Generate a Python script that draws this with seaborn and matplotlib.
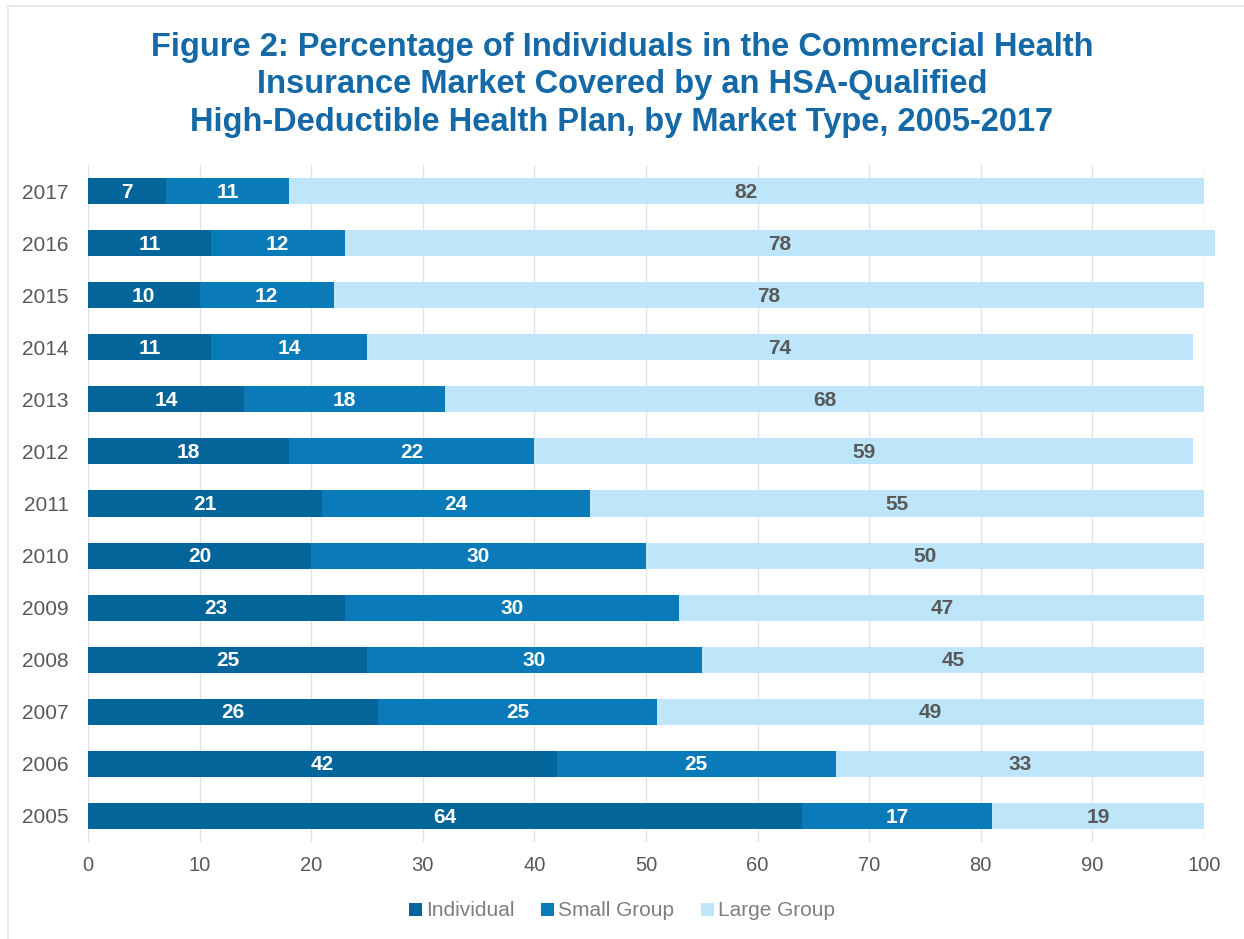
import matplotlib
matplotlib.use("Agg")
import matplotlib.pyplot as plt
from matplotlib.lines import Line2D
from matplotlib.patches import Patch
import numpy as np
import pandas as pd
import seaborn as sns

# Data: share of HSA-qualified HDHP enrollment by market type (percent)
years = ["2017", "2016", "2015", "2014", "2013", "2012", "2011",
         "2010", "2009", "2008", "2007", "2006", "2005"]
individual = [7, 11, 10, 11, 14, 18, 21, 20, 23, 25, 26, 42, 64]
small_group = [11, 12, 12, 14, 18, 22, 24, 30, 30, 30, 25, 25, 17]
large_group = [82, 78, 78, 74, 68, 59, 55, 50, 47, 45, 49, 33, 19]
series_names = ["Individual", "Small Group", "Large Group"]
xticks = [0, 10, 20, 30, 40, 50, 60, 70, 80, 90, 100]

colors = ["#04659a", "#0a7bb8", "#bde6fa"]
label_colors = ["white", "white", "#595959"]
title_color = "#1469a6"
text_gray = "#595959"

sns.set_theme(style="white")
plt.rcParams["font.family"] = ["Liberation Sans", "DejaVu Sans"]

df = pd.DataFrame({
    "year": years,
    "Individual": individual,
    "Small Group": small_group,
    "Large Group": large_group,
})
# cumulative right edges for stacking
df["cum1"] = df["Individual"]
df["cum2"] = df["Individual"] + df["Small Group"]
df["cum3"] = df["cum2"] + df["Large Group"]

fig = plt.figure(figsize=(12.44, 9.39), dpi=100)
ax = fig.add_axes([88 / 1244, 1 - 842 / 939, (1204 - 88) / 1244, (842 - 165) / 939])

# draw the stack back to front so each segment shows its own span
for cum_col, color in zip(["cum3", "cum2", "cum1"], colors[::-1]):
    sns.barplot(data=df, x=cum_col, y="year", order=years, orient="h",
                color=color, width=0.5, saturation=1, ax=ax,
                edgecolor="none", linewidth=0)
# totals slightly above 100 are shown in full
for p in ax.patches:
    p.set_clip_on(False)

# segment value labels
for i, yr in enumerate(years):
    starts = [0, df.loc[i, "cum1"], df.loc[i, "cum2"]]
    vals = [individual[i], small_group[i], large_group[i]]
    for s, v, c in zip(starts, vals, label_colors):
        ax.text(s + v / 2, i + 0.02, f"{v}", ha="center", va="center",
                color=c, fontsize=15, fontweight="bold")

ax.set_xlim(0, 100)
ax.set_ylim(len(years) - 0.5, -0.5)
ax.set_xticks(xticks)
ax.set_xticklabels([str(t) for t in xticks])
ax.set_xlabel("")
ax.set_ylabel("")
ax.grid(axis="x", color="#e3e3e3", linewidth=1)
ax.grid(axis="y", visible=False)
ax.set_axisbelow(True)
for sp in ax.spines.values():
    sp.set_visible(False)
ax.tick_params(axis="x", length=0, pad=10, labelsize=14.5, labelcolor=text_gray)
ax.tick_params(axis="y", length=0, pad=14, labelsize=15, labelcolor=text_gray)

fig.text(0.5, 0.966,
         "Figure 2: Percentage of Individuals in the Commercial Health\n"
         "Insurance Market Covered by an HSA-Qualified\n"
         "High-Deductible Health Plan, by Market Type, 2005-2017",
         ha="center", va="top", fontsize=23.5, fontweight="bold",
         color=title_color, linespacing=1.27)

handles = [Patch(facecolor=c, edgecolor="none") for c in colors]
fig.legend(handles, series_names, loc="center", bbox_to_anchor=(0.5, 1 - 911 / 939),
           ncol=3, frameon=False, fontsize=15, labelcolor="#7f7f7f",
           handlelength=0.6, handleheight=0.6, handletextpad=0.2,
           columnspacing=1.3)

# thin frame along the top and left of the figure
fig.add_artist(Line2D([8 / 1244, 1.0], [1 - 6 / 939] * 2, color="#e6e6e6",
                      linewidth=1.2, transform=fig.transFigure))
fig.add_artist(Line2D([8 / 1244] * 2, [0.0, 1 - 6 / 939], color="#e6e6e6",
                      linewidth=1.2, transform=fig.transFigure))

fig.savefig("out.png", dpi=100, facecolor="white")
